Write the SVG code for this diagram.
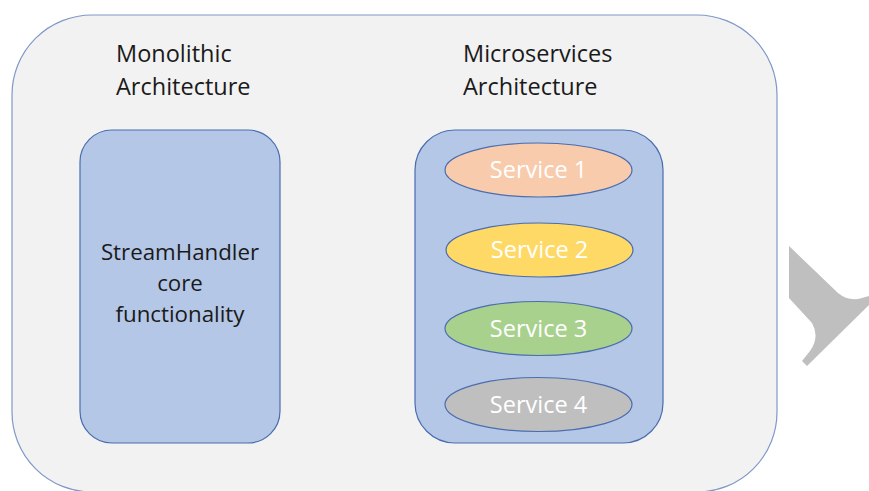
<svg xmlns="http://www.w3.org/2000/svg" width="869" height="491" viewBox="0 0 869 491">
  <style>
    .frame { fill: #F2F2F2; stroke: #7F98C8; stroke-width: 1.2; }
    .box { fill: #B4C7E7; stroke: #4A6DAE; stroke-width: 1.2; }
    .svc { stroke: #4A6DAE; stroke-width: 1.2; }
    .title { font-family: "Open Sans", "Noto Sans", sans-serif; font-size: 23.5px; fill: #1a1a1a; }
    .label { font-family: "Open Sans", "Noto Sans", sans-serif; font-size: 22.3px; fill: #1a1a1a; text-anchor: middle; }
    .svc-text { font-family: "Open Sans", "Noto Sans", sans-serif; font-size: 23.5px; fill: #FFFFFF; text-anchor: middle; }
  </style>

  <rect width="869" height="491" fill="#FFFFFF"/>

  <!-- outer container -->
  <g id="container">
    <rect class="frame" x="12" y="15" width="765" height="477" rx="80" ry="80"/>
    <text class="title" x="116" y="62">Monolithic</text>
    <text class="title" x="116" y="95">Architecture</text>
    <text class="title" x="463" y="62">Microservices</text>
    <text class="title" x="463" y="95">Architecture</text>
  </g>

  <!-- monolith block -->
  <g id="monolith">
    <rect class="box" x="80" y="130" width="200" height="313" rx="32" ry="32"/>
    <text class="label" x="180" y="260">StreamHandler</text>
    <text class="label" x="180" y="291">core</text>
    <text class="label" x="180" y="322">functionality</text>
  </g>

  <!-- microservices block -->
  <g id="microservices">
    <rect class="box" x="415" y="130" width="248" height="313" rx="40" ry="40"/>
  </g>

  <g id="service1">
    <ellipse class="svc" cx="538.5" cy="170" rx="93.5" ry="27" fill="#F8CBAD"/>
    <text class="svc-text" x="538.5" y="178">Service 1</text>
  </g>
  <g id="service2">
    <ellipse class="svc" cx="539.5" cy="250" rx="93.5" ry="27" fill="#FFD966"/>
    <text class="svc-text" x="539.5" y="258">Service 2</text>
  </g>
  <g id="service3">
    <ellipse class="svc" cx="538.5" cy="328.5" rx="93.5" ry="27" fill="#A9D18E"/>
    <text class="svc-text" x="538.5" y="336.5">Service 3</text>
  </g>
  <g id="service4">
    <ellipse class="svc" cx="538.5" cy="404.5" rx="93.5" ry="27" fill="#BFBFBF"/>
    <text class="svc-text" x="538.5" y="412.5">Service 4</text>
  </g>

  <!-- grey chevron at the right edge -->
  <g id="chevron">
    <path d="M789,246 L838,293 Q849,302 862,298 L869,296 L869,305 L807,366 L802,361 L810,351 Q820,337 812,323 L789,298 Z" fill="#BFBFBF"/>
  </g>
</svg>
